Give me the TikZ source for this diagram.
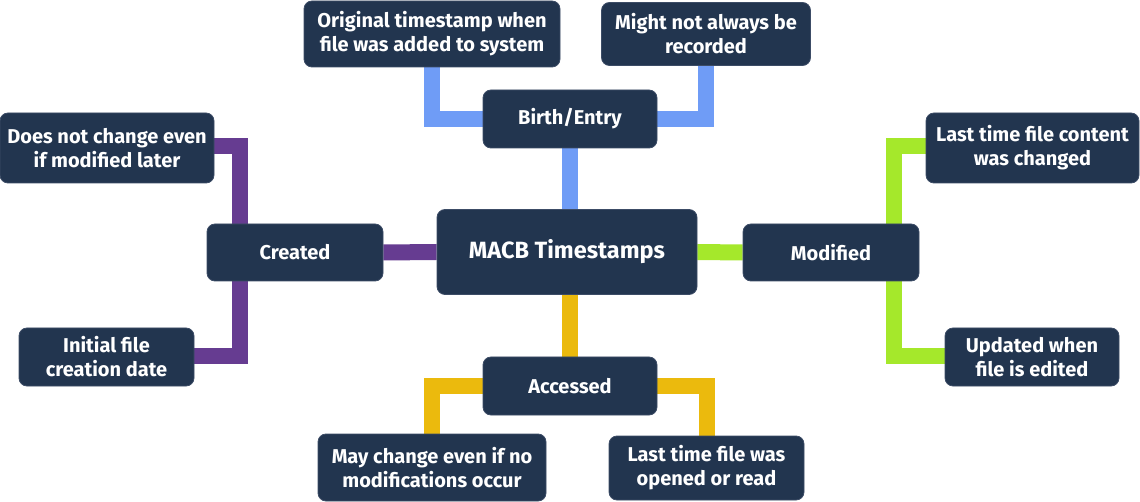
\documentclass[tikz,border=0pt]{standalone}
\usepackage{fontspec}
\setmainfont{Fira Sans}
\usetikzlibrary{backgrounds}
\definecolor{navy}{HTML}{22354F}
\definecolor{navyedge}{HTML}{3C4C66}
\definecolor{cblue}{HTML}{6F9CF6}
\definecolor{cpurple}{HTML}{663C91}
\definecolor{cgreen}{HTML}{A5E82B}
\definecolor{cyellow}{HTML}{EBBA0D}
\begin{document}
\begin{tikzpicture}[x=1pt,y=-1pt,
  box/.style={rectangle, rounded corners=8pt, fill=navy, draw=navyedge, line width=0.8pt,
    text=white, align=center, inner sep=0pt, font=\bfseries\fontsize{20}{24}\selectfont},
  conn/.style={line width=16pt, miter limit=10},
]
\useasboundingbox (0,0) rectangle (1140,502);
% nodes
\node[box, minimum width=260pt, minimum height=85pt, font=\bfseries\fontsize{23.5}{28}\selectfont] (macb) at (567,252) {MACB Timestamps};
\node[box, minimum width=174pt, minimum height=58pt] (birth) at (570,119) {Birth/Entry};
\node[box, minimum width=256pt, minimum height=66pt] (orig) at (432,34) {Original timestamp when\\file was added to system};
\node[box, minimum width=209pt, minimum height=63pt] (might) at (706,34) {Might not always be\\recorded};
\node[box, minimum width=176pt, minimum height=57pt] (created) at (295,252.5) {Created};
\node[box, minimum width=214pt, minimum height=70pt] (dnc) at (107,148) {Does not change even\\if modified later};
\node[box, minimum width=175pt, minimum height=58pt] (initial) at (106.5,357) {Initial file\\creation date};
\node[box, minimum width=176pt, minimum height=57pt] (modified) at (831,252.5) {Modified};
\node[box, minimum width=213pt, minimum height=70pt] (lastcontent) at (1032.5,148) {Last time file content\\was changed};
\node[box, minimum width=174pt, minimum height=58pt] (updated) at (1032,357) {Updated when\\file is edited};
\node[box, minimum width=174pt, minimum height=58pt] (accessed) at (570,386) {Accessed};
\node[box, minimum width=228pt, minimum height=67pt] (maychange) at (432,467.5) {May change even if no\\modifications occur};
\node[box, minimum width=195pt, minimum height=64pt] (lastopened) at (706.5,468) {Last time file was\\opened or read};
% connectors behind
\begin{scope}[on background layer]
  \draw[conn, cblue] (birth.south) -- (birth.south |- macb.north);
  \draw[conn, cblue] (birth.west) -| (orig.south);
  \draw[conn, cblue] (birth.east) -| (might.south);
  \draw[conn, cpurple] (macb.west) -- (created.east);
  \draw[conn, cpurple] ([xshift=-55pt]created.north) |- ([yshift=2pt]dnc.east);
  \draw[conn, cpurple] ([xshift=-55pt]created.south) |- ([yshift=1pt]initial.east);
  \draw[conn, cgreen] (macb.east) -- (modified.west);
  \draw[conn, cgreen] ([xshift=63pt]modified.north) |- ([yshift=2pt]lastcontent.west);
  \draw[conn, cgreen] ([xshift=63pt]modified.south) |- ([yshift=1pt]updated.west);
  \draw[conn, cyellow] (accessed.north |- macb.south) -- (accessed.north);
  \draw[conn, cyellow] (accessed.west) -| (maychange.north);
  \draw[conn, cyellow] (accessed.east) -| (lastopened.north);
\end{scope}
\end{tikzpicture}
\end{document}
